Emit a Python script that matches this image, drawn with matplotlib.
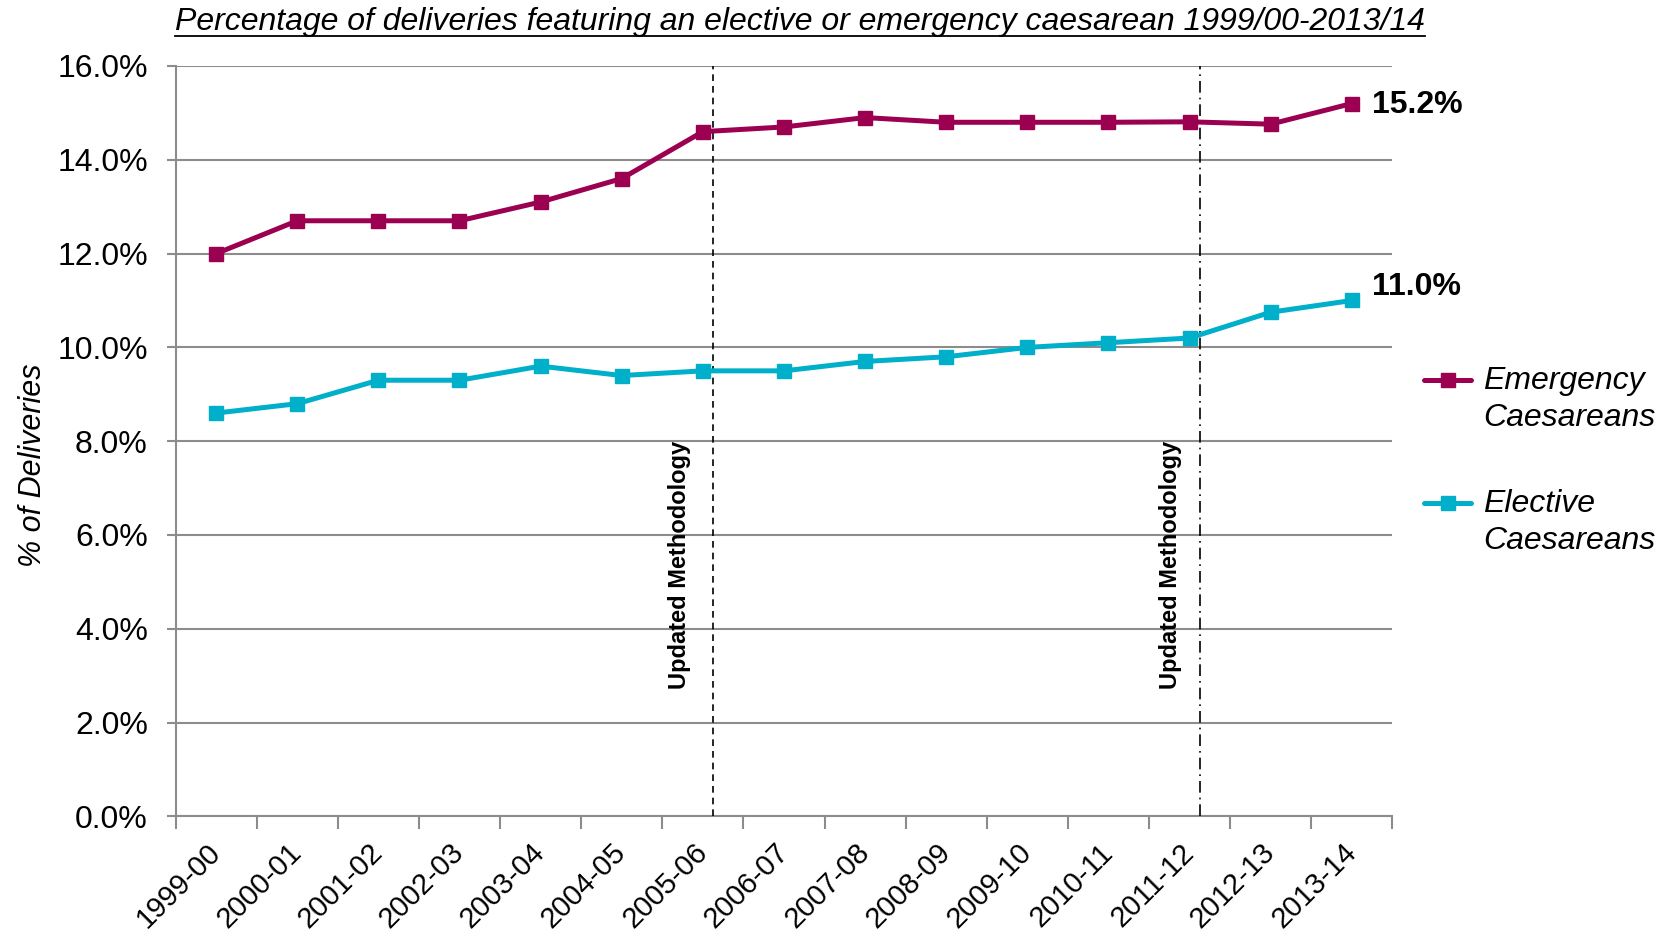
import matplotlib
matplotlib.use("Agg")
import matplotlib.pyplot as plt
from matplotlib.lines import Line2D
from matplotlib.ticker import FixedLocator, FuncFormatter

plt.rcParams['font.family'] = ['Liberation Sans', 'DejaVu Sans']

# Financial years
years = ["1999-00", "2000-01", "2001-02", "2002-03", "2003-04", "2004-05",
         "2005-06", "2006-07", "2007-08", "2008-09", "2009-10", "2010-11",
         "2011-12", "2012-13", "2013-14"]

# % of deliveries by caesarean type
emergency = [12.0, 12.7, 12.7, 12.7, 13.1, 13.6, 14.6, 14.7, 14.9, 14.8,
             14.8, 14.8, 14.81, 14.76, 15.2]
elective = [8.6, 8.8, 9.3, 9.3, 9.6, 9.4, 9.5, 9.5, 9.7, 9.8,
            10.0, 10.1, 10.2, 10.75, 11.0]

series_names = ["Emergency\nCaesareans", "Elective\nCaesareans"]
end_labels = ["15.2%", "11.0%"]

# Points where the counting methodology changed
method_change_x = [6.13, 12.13]
method_change_label = "Updated Methodology"

title = "Percentage of deliveries featuring an elective or emergency caesarean 1999/00-2013/14"

EMERG_COL = "#9C0050"
ELECT_COL = "#00AFCA"
GRID_COL = "#8C8C8C"

W, H = 1669, 938
fig = plt.figure(figsize=(W / 100, H / 100), dpi=100)
left, right, top, bottom = 175.6, 1392.3, 66.0, 816.4
ax = fig.add_axes([left / W, 1 - bottom / H, (right - left) / W, (bottom - top) / H])

x = list(range(len(years)))
ax.set_xlim(-0.5, len(years) - 0.5)
ax.set_ylim(0, 16)

# Grid and axes styling
ax.set_yticks(range(0, 17, 2))
ax.yaxis.set_major_formatter(FuncFormatter(lambda v, p: f"{v:.1f}%"))
ax.grid(axis="y", color=GRID_COL, lw=1.5)
ax.set_axisbelow(True)
for s in ("top", "right"):
    ax.spines[s].set_visible(False)
for s in ("left", "bottom"):
    ax.spines[s].set_color(GRID_COL)
    ax.spines[s].set_linewidth(1.5)
ax.tick_params(axis="y", length=6.5, width=1.5, color=GRID_COL, labelsize=23, pad=13.5)

# Category boundaries carry the tick marks, centres carry the labels
ax.xaxis.set_major_locator(FixedLocator([i - 0.5 for i in range(len(years) + 1)]))
ax.xaxis.set_major_formatter(FuncFormatter(lambda v, p: ""))
ax.xaxis.set_minor_locator(FixedLocator(x))
ax.set_xticklabels(years, minor=True)
ax.tick_params(axis="x", which="major", length=9, width=1.5, color=GRID_COL)
ax.tick_params(axis="x", which="minor", length=0, pad=23, labelsize=21)
for lbl in ax.get_xticklabels(minor=True):
    lbl.set_rotation(45)
    lbl.set_ha("right")
    lbl.set_va("center")
    lbl.set_rotation_mode("anchor")

# Data series
ax.plot(x, emergency, color=EMERG_COL, lw=3.6, marker="s", ms=10.5, zorder=4)
ax.plot(x, elective, color=ELECT_COL, lw=3.6, marker="s", ms=10.5, zorder=4)

# End-of-series value labels
ax.annotate(end_labels[0], (x[-1], emergency[-1]), xytext=(14.5, -1), textcoords="offset points",
            fontsize=23, fontweight="bold", va="center", ha="left", annotation_clip=False)
ax.annotate(end_labels[1], (x[-1], elective[-1]), xytext=(14.5, 9.5), textcoords="offset points",
            fontsize=23, fontweight="bold", va="center", ha="left", annotation_clip=False)

# Methodology change markers
ax.axvline(method_change_x[0], color="black", lw=1.2, dashes=(4, 3), zorder=3)
ax.axvline(method_change_x[1], color="black", lw=1.2, dashes=(7, 3, 1, 3), zorder=3)
ax.text(method_change_x[0] - 0.42, 5.37, method_change_label, rotation=90,
        fontsize=17, fontweight="bold", ha="center", va="center")
ax.text(method_change_x[1] - 0.36, 5.37, method_change_label, rotation=90,
        fontsize=17, fontweight="bold", ha="center", va="center")

# Axis label
fig.text(33 / W, 1 - 465 / H, "% of Deliveries", rotation=90, fontsize=22,
         style="italic", ha="center", va="center")

# Title with underline
t = fig.text(800 / W, 1 - 22 / H, title, fontsize=23, style="italic",
             ha="center", va="center")
fig.canvas.draw()
bb = t.get_window_extent()
uy = 1 - 36 / H
fig.add_artist(Line2D([bb.x0 / W, bb.x1 / W], [uy, uy], color="black", lw=1.3,
                      transform=fig.transFigure))

# Legend drawn beside the plot
for (name, col, ly) in [(series_names[0], EMERG_COL, 380), (series_names[1], ELECT_COL, 503.5)]:
    yf = 1 - ly / H
    fig.add_artist(Line2D([1424 / W, 1471 / W], [yf, yf], color=col, lw=3.6,
                          transform=fig.transFigure, solid_capstyle="round"))
    fig.add_artist(Line2D([1447.5 / W], [yf], color=col, marker="s", ms=10.5,
                          transform=fig.transFigure))
    fig.text(1483 / W, yf + 14 / H, name, fontsize=23, style="italic",
             ha="left", va="top", linespacing=1.3)

fig.savefig("out.png", dpi=100)
